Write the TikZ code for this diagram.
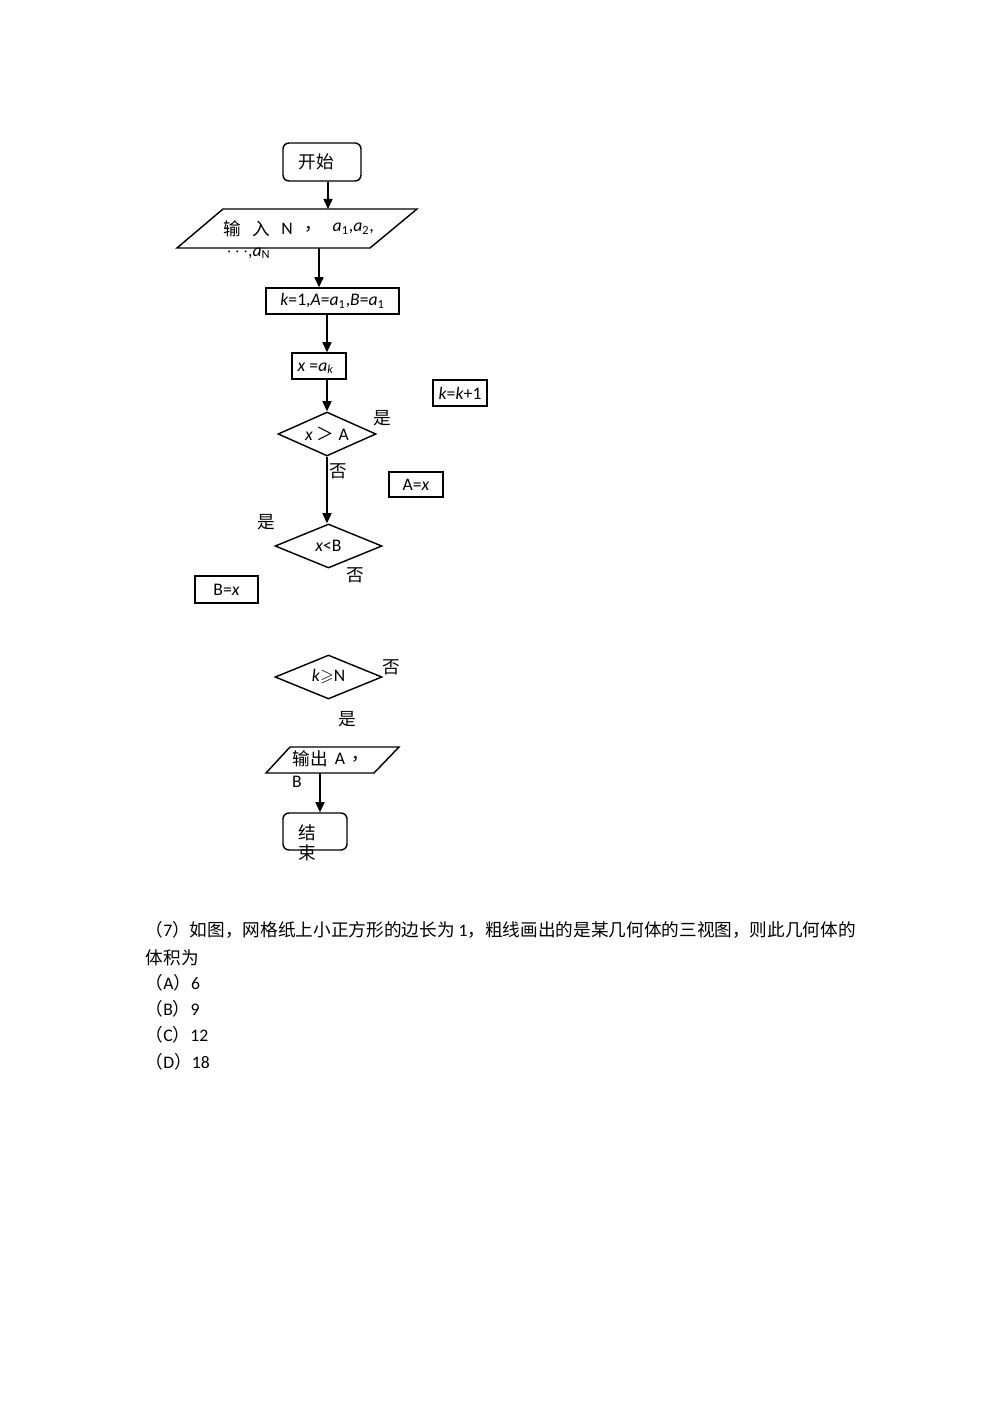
\documentclass[tikz,border=0pt]{standalone}
\usepackage{amssymb}
\usepackage{fontspec}
\setmainfont{Carlito}
\newfontfamily\cjk{Noto Sans CJK SC}
\usetikzlibrary{arrows.meta,shapes.geometric}
\newlength\pxu \setlength\pxu{0.595pt}
\begin{document}
\begin{tikzpicture}[x=0.595pt,y=-0.595pt,line width=0.85pt,
  fs/.style={font=\fontsize{10.5}{12}\selectfont},
  box/.style={draw,inner sep=0pt,fs},
  dia/.style={draw,diamond,aspect=2.5,inner sep=0pt,fs},
  arr/.style={-{Triangle[length=6pt,width=5.4pt]}},
  lbl/.style={inner sep=0pt,font=\cjk\fontsize{10.5}{12}\selectfont},
  tx/.style={inner sep=0pt,fs},
  line/.style={inner sep=0pt,anchor=west,fs}]
\useasboundingbox (0,0) rectangle (1000,1415);

% start
\node[box,rounded corners=6\pxu,minimum width=78\pxu,minimum height=38\pxu] (start) at (322,162) {};
\node[lbl] (startT) at (316,162) {开始};

% input parallelogram
\draw (223,209) -- (417,209) -- (370,248) -- (177,248) -- cycle;
\coordinate (inpN) at (328,209);
\coordinate (inpS) at (319,248);
\node[lbl] (in1) at (232,229) {输};
\node[lbl] (in2) at (261,229) {入};
\node[tx] (in3) at (287,229) {N};
\node[lbl] (in4) at (313,229) {，};
\node[tx,anchor=west] (in5) at (332,229) {\textit{a}\textsubscript{1},\textit{a}\textsubscript{2},};
\node[tx,anchor=base west] (in6) at (226,256) {$\cdots$,\textit{a}\textsubscript{N}};

% init
\node[box,minimum width=133\pxu,minimum height=26\pxu] (init) at (332.5,301)
  {\textit{k}=1,\textit{A}=\textit{a}\textsubscript{1},\textit{B}=\textit{a}\textsubscript{1}};

% x = a_k
\node[box,minimum width=54\pxu,minimum height=26\pxu] (xak) at (319,366) {};
\node[tx,anchor=base west] (xakT) at (297,371) {\textit{x} =\textit{a}\textsubscript{\textit{k}}};

% k=k+1
\node[box,minimum width=54\pxu,minimum height=26\pxu] (kk) at (460,393) {\textit{k}=\textit{k}+1};

% diamond 1
\node[dia,minimum width=98\pxu,minimum height=44\pxu] (d1) at (327,434) {\textit{x} {\cjk ＞} A};
\node[lbl] (y1) at (382,418) {是};
\node[lbl] (n1) at (338,471) {否};

% A=x
\node[box,minimum width=54\pxu,minimum height=25\pxu] (ax) at (416,484.5) {A=\textit{x}};

% diamond 2
\node[dia,minimum width=107\pxu,minimum height=44\pxu] (d2) at (328.5,546) {\textit{x}<B};
\node[lbl] (y2) at (266,522) {是};
\node[lbl] (n2) at (355,575) {否};

% B=x
\node[box,minimum width=63\pxu,minimum height=27\pxu] (bx) at (226.5,589.5) {B=\textit{x}};

% diamond 3
\node[dia,minimum width=107\pxu,minimum height=44\pxu] (d3) at (328.5,677) {\textit{k}$\geqslant$N};
\node[lbl] (n3) at (391,667) {否};
\node[lbl] (y3) at (347,719) {是};

% output parallelogram
\draw (290,747) -- (399,747) -- (374,773) -- (266,773) -- cycle;
\coordinate (outS) at (320,773);
\node[lbl] (o1) at (301,759) {输};
\node[lbl] (o2) at (319,759) {出};
\node[tx] (o3) at (340,759) {A};
\node[lbl] (o4) at (360,759) {，};
\node[tx] (o5) at (297,782) {B};

% end
\node[box,rounded corners=6\pxu,minimum width=64\pxu,minimum height=37\pxu] (end) at (315,831.5) {};
\node[lbl] (e1) at (307,833) {结};
\node[lbl] (e2) at (307,853) {束};

% connectors
\draw[arr] (start.south -| inpN) -- (inpN);
\draw[arr] (inpS) -- (inpS |- init.north);
\draw[arr] (init.south -| d1.north) -- (xak.north -| d1.north);
\draw[arr] (xak.south -| d1.north) -- (d1.north);
\draw[arr] (d1.south) -- (d1.south |- d2.north);
\draw[arr] (outS) -- (outS |- end.north);

% question text
\node[line] (q1) at (145,930) {{\cjk （}7{\cjk ）如图，网格纸上小正方形的边长为} 1{\cjk ，粗线画出的是某几何体的三视图，则此几何体的}};
\node[line] (q2) at (145,958) {{\cjk 体积为}};
\node[line] (qa) at (145,983) {{\cjk （}A{\cjk ）}6};
\node[line] (qb) at (145,1009) {{\cjk （}B{\cjk ）}9};
\node[line] (qc) at (145,1035) {{\cjk （}C{\cjk ）}12};
\node[line] (qd) at (145,1062) {{\cjk （}D{\cjk ）}18};
\end{tikzpicture}
\end{document}
